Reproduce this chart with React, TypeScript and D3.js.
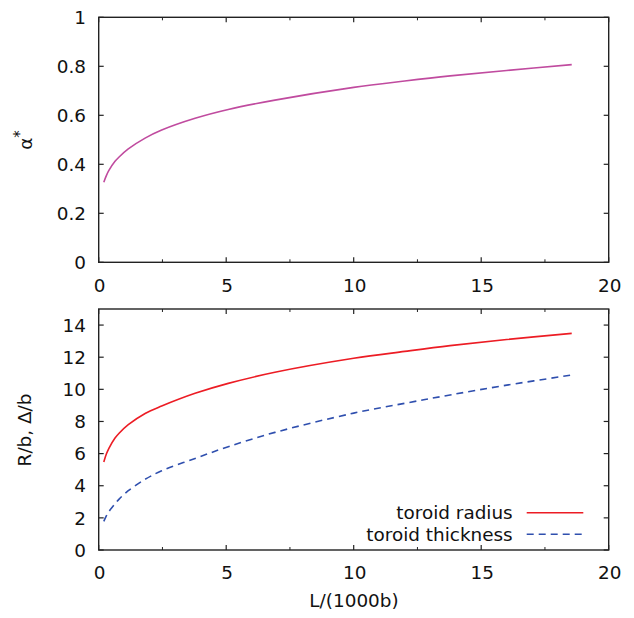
import React from "react";
import * as d3 from "d3";

const L = [0.2, 0.3, 0.4, 0.64, 0.8, 1.16, 1.82, 2.47, 3.78, 5.08, 6.91, 10, 12, 13.78, 16, 18.55];
const alpha = [0.327, 0.354, 0.375, 0.412, 0.43, 0.463, 0.507, 0.540, 0.588, 0.624, 0.662, 0.714, 0.740, 0.761, 0.783, 0.807];
const radius = [5.48, 5.97, 6.33, 6.97, 7.27, 7.8, 8.5, 8.96, 9.75, 10.37, 11.06, 11.93, 12.36, 12.72, 13.1, 13.48];
const thickness = [1.78, 2.12, 2.39, 2.88, 3.17, 3.69, 4.4, 4.93, 5.7, 6.43, 7.32, 8.52, 9.13, 9.65, 10.26, 10.89];

const xTicks = [0, 5, 10, 15, 20];
const xMinor = [2.5, 7.5, 12.5, 17.5];
const alphaTicks = [0, 0.2, 0.4, 0.6, 0.8, 1];
const rTicks = [0, 2, 4, 6, 8, 10, 12, 14];
const legendLabels = ["toroid radius", "toroid thickness"];

const FONT = "'DejaVu Sans', sans-serif";
const FS = 18.4;
const LEFT = 98.7;
const RIGHT = 608.7;
const AX = "#222";

function Panel({ top, bottom, yMax, yTicks, yFmt, children }: any) {
  const x = d3.scaleLinear().domain([0, 20]).range([LEFT, RIGHT]);
  const y = d3.scaleLinear().domain([0, yMax]).range([bottom, top]);
  return (
    <g>
      {xTicks.map((t) => (
        <g key={"x" + t}>
          <line x1={x(t)} x2={x(t)} y1={bottom} y2={bottom - 5} stroke={AX} strokeWidth={1.2} />
          <line x1={x(t)} x2={x(t)} y1={top} y2={top + 5} stroke={AX} strokeWidth={1.2} />
          <text x={x(t) + 1} y={bottom + 29.4} textAnchor="middle" fontSize={FS} fontFamily={FONT} fill="#111">
            {t}
          </text>
        </g>
      ))}
      {xMinor.map((t) => (
        <g key={"m" + t}>
          <line x1={x(t)} x2={x(t)} y1={bottom} y2={bottom - 3} stroke={AX} strokeWidth={1} />
          <line x1={x(t)} x2={x(t)} y1={top} y2={top + 3} stroke={AX} strokeWidth={1} />
        </g>
      ))}
      {yTicks.map((t: number) => (
        <g key={"y" + t}>
          <line x1={LEFT} x2={LEFT + 5} y1={y(t)} y2={y(t)} stroke={AX} strokeWidth={1.2} />
          <line x1={RIGHT} x2={RIGHT - 5} y1={y(t)} y2={y(t)} stroke={AX} strokeWidth={1.2} />
          <text x={86} y={y(t) + 6.7} textAnchor="end" fontSize={FS} fontFamily={FONT} fill="#111">
            {yFmt(t)}
          </text>
        </g>
      ))}
      {children(x, y)}
      <rect x={LEFT} y={top} width={RIGHT - LEFT} height={bottom - top} fill="none" stroke={AX} strokeWidth={1.4} />
    </g>
  );
}

export default function App() {
  const idx = d3.range(L.length);
  const mk = (x: any, y: any, vals: number[]) =>
    d3
      .line<number>()
      .x((i) => x(L[i]))
      .y((i) => y(vals[i]))
      .curve(d3.curveCatmullRom.alpha(0.5))(idx) as string;

  return (
    <svg width={634} height={618} style={{ position: "absolute", left: 0, top: 0, background: "#fff" }}>
      <rect x={0} y={0} width={634} height={618} fill="#fff" />
      <Panel
        top={17.3}
        bottom={262.3}
        yMax={1}
        yTicks={alphaTicks}
        yFmt={(t: number) => (t === 0 || t === 1 ? String(t) : t.toFixed(1))}
      >
        {(x: any, y: any) => (
          <path d={mk(x, y, alpha)} fill="none" stroke="#c04b9f" strokeWidth={1.6} />
        )}
      </Panel>
      <Panel top={309} bottom={550} yMax={15} yTicks={rTicks} yFmt={(t: number) => String(t)}>
        {(x: any, y: any) => (
          <g>
            <path d={mk(x, y, radius)} fill="none" stroke="#ec1c24" strokeWidth={1.6} />
            <path d={mk(x, y, thickness)} fill="none" stroke="#2f4fae" strokeWidth={1.6} strokeDasharray="7,5" />
          </g>
        )}
      </Panel>
      <text transform="translate(32,140) rotate(-90)" textAnchor="middle" fontSize={FS} fontFamily={FONT} fill="#111">
        α<tspan dy={-7} fontSize={15}>*</tspan>
      </text>
      <text transform="translate(31,430) rotate(-90)" textAnchor="middle" fontSize={FS} fontFamily={FONT} fill="#111">
        R/b, Δ/b
      </text>
      <text x={354} y={607} textAnchor="middle" fontSize={FS} fontFamily={FONT} fill="#111">
        L/(1000b)
      </text>
      {legendLabels.map((lab, i) => (
        <g key={lab}>
          <text x={512.7} y={519.3 + i * 21.5} textAnchor="end" fontSize={FS} fontFamily={FONT} fill="#111">
            {lab}
          </text>
          <line
            x1={526.7}
            x2={583.3}
            y1={512.7 + i * 21.5}
            y2={512.7 + i * 21.5}
            stroke={i === 0 ? "#ec1c24" : "#2f4fae"}
            strokeWidth={1.6}
            strokeDasharray={i === 0 ? undefined : "7,5"}
          />
        </g>
      ))}
    </svg>
  );
}
